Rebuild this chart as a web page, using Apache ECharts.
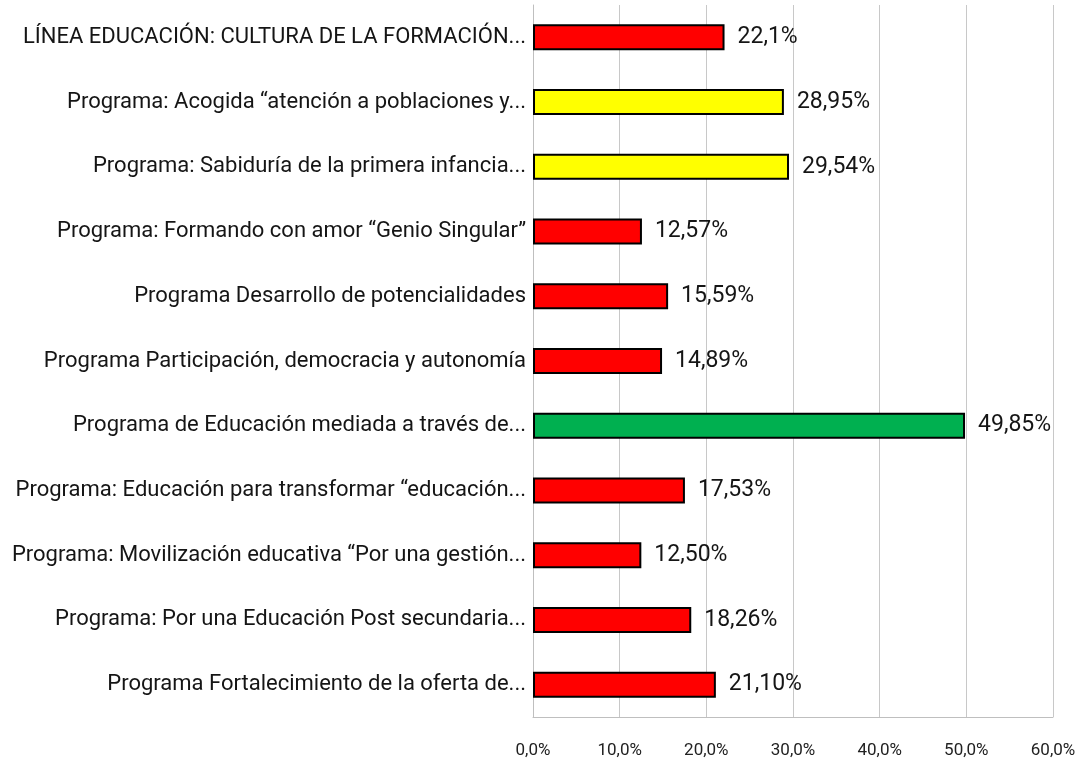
<!DOCTYPE html>
<html><head><meta charset="utf-8">
<script src="https://cdn.jsdelivr.net/npm/echarts@6/dist/echarts.min.js"></script>
<style>html,body{margin:0;padding:0;background:#fff}#c{width:1080px;height:760px}</style>
</head><body><div id="c"></div>
<script>
const categories = [
  "LÍNEA EDUCACIÓN: CULTURA DE LA FORMACIÓN...",
  "Programa: Acogida “atención a poblaciones y...",
  "Programa: Sabiduría de la primera infancia...",
  "Programa: Formando con amor “Genio Singular”",
  "Programa Desarrollo de potencialidades",
  "Programa Participación, democracia y autonomía",
  "Programa de Educación mediada a través de...",
  "Programa: Educación para transformar “educación...",
  "Programa: Movilización educativa “Por una gestión...",
  "Programa: Por una Educación Post secundaria...",
  "Programa Fortalecimiento de la oferta de..."
];
const values = [22.1, 28.95, 29.54, 12.57, 15.59, 14.89, 49.85, 17.53, 12.50, 18.26, 21.10];
const valueLabels = ["22,1%", "28,95%", "29,54%", "12,57%", "15,59%", "14,89%", "49,85%", "17,53%", "12,50%", "18,26%", "21,10%"];
const barColors = ["#FF0000", "#FFFF00", "#FFFF00", "#FF0000", "#FF0000", "#FF0000", "#00B050", "#FF0000", "#FF0000", "#FF0000", "#FF0000"];
const xTicks = [0, 10, 20, 30, 40, 50, 60];

const FONT = 'Roboto, sans-serif';
const chart = echarts.init(document.getElementById('c'), null, {renderer: 'canvas'});
chart.setOption({
  animation: false,
  backgroundColor: '#fff',
  grid: {left: 533, right: 27, top: 5, bottom: 43, containLabel: false, outerBoundsMode: 'none'},
  xAxis: {
    type: 'value', min: xTicks[0], max: xTicks[xTicks.length - 1], interval: 10,
    axisLine: {show: true, lineStyle: {color: '#BFBFBF', width: 1}},
    axisTick: {show: false},
    splitLine: {show: true, lineStyle: {color: '#C8C8C8', width: 1}},
    axisLabel: {
      margin: 25, color: '#222', fontFamily: FONT, fontSize: 17,
      formatter: v => v.toFixed(1).replace('.', ',') + '%'
    }
  },
  yAxis: {
    type: 'category', data: categories, inverse: true,
    axisLine: {show: true, lineStyle: {color: '#BFBFBF', width: 1}},
    axisTick: {show: false},
    axisLabel: {margin: 7, color: '#151515', fontFamily: FONT, fontSize: 22}
  },
  series: [{
    type: 'bar',
    data: values.map((v, i) => ({value: v, itemStyle: {color: barColors[i]}})),
    barWidth: 26,
    itemStyle: {borderColor: '#000', borderWidth: 2},
    label: {
      show: true, position: 'right', distance: 13,
      color: '#151515', fontFamily: FONT, fontSize: 23,
      formatter: p => valueLabels[p.dataIndex]
    }
  }]
});
</script></body></html>
